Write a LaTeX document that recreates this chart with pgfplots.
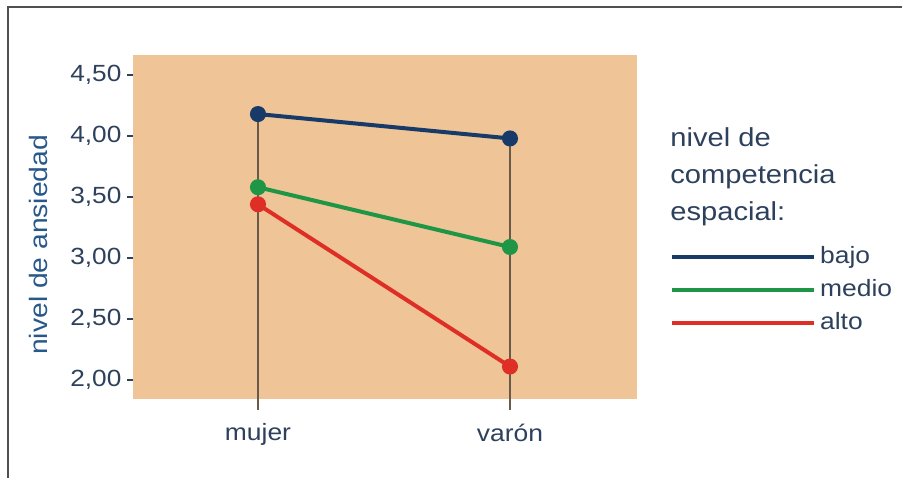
\documentclass[border=0pt]{standalone}
\usepackage{fontspec}
\setmainfont{Liberation Sans}[FakeStretch=1.12]
\usepackage{pgfplots}
\pgfplotsset{compat=1.18}

\definecolor{bgorange}{RGB}{239,196,151}
\definecolor{cbajo}{RGB}{24,58,104}
\definecolor{cmedio}{RGB}{30,150,70}
\definecolor{calto}{RGB}{222,46,38}
\definecolor{txtdark}{RGB}{45,64,92}
\definecolor{txtblue}{RGB}{40,88,138}
\definecolor{vline}{RGB}{105,90,75}
\definecolor{frame}{RGB}{80,80,80}

\begin{document}
\begin{tikzpicture}
\useasboundingbox (0,0) rectangle (451pt,239pt);
\draw[frame, line width=1.4pt] (4pt,0pt) -- (4pt,235.5pt) -- (451pt,235.5pt);

\begin{axis}[
  at={(66.5pt,39.5pt)}, anchor=south west,
  scale only axis, width=252pt, height=172pt,
  xmin=-0.496, xmax=1.504,
  ymin=1.844, ymax=4.664,
  axis background/.style={fill=bgorange},
  axis line style={draw=none},
  xtick={0,1}, xticklabels={mujer, varón},
  ytick={2,2.5,3,3.5,4,4.5},
  ytick pos=left,
  yticklabel={\pgfmathprintnumber[fixed,fixed zerofill,precision=2,use comma]{\tick}},
  /pgf/number format/assume math mode=true,
  tick align=outside,
  major tick length=2.8pt,
  x tick style={draw=none},
  y tick style={draw=txtdark, line width=0.9pt},
  ticklabel style={font=\fontsize{11.7}{13}\selectfont, text=txtdark},
  yticklabel style={xshift=0.5pt},
  xticklabel style={font=\fontsize{11.8}{13}\selectfont, text=txtdark, yshift=-6pt},
  ylabel={nivel de ansiedad},
  ylabel style={font=\fontsize{12.6}{14}\selectfont, text=txtblue, at={(axis description cs:-0.155,0.448)}},
  clip=false,
  legend image code/.code={\draw[#1] (0pt,0pt) -- (71pt,0pt);},
  legend style={at={(1.065,0.445)}, anchor=north west, draw=none, fill=none,
    inner sep=0pt, row sep=5.5pt, column sep=2pt,
    font=\fontsize{11.8}{13}\selectfont, text=txtdark,
    nodes={inner sep=0pt, text height=8.5pt, text depth=2.5pt}},
  legend cell align=left,
]
% vertical drop lines at each category
\addplot[vline, line width=0.6pt, forget plot] coordinates {(0,1.754) (0,4.18)};
\addplot[vline, line width=0.6pt, forget plot] coordinates {(1,1.754) (1,3.98)};

\addplot[cbajo, line width=2pt, mark=*, mark size=3pt] coordinates {(0,4.18) (1,3.98)};
\addlegendentry{bajo}
\addplot[cmedio, line width=2pt, mark=*, mark size=3pt] coordinates {(0,3.58) (1,3.09)};
\addlegendentry{medio}
\addplot[calto, line width=2pt, mark=*, mark size=3pt] coordinates {(0,3.44) (1,2.11)};
\addlegendentry{alto}
\end{axis}

\node[anchor=north west, inner sep=0pt, align=left, text=txtdark,
  font=\fontsize{13}{18.5}\selectfont] at (335pt,175.5pt)
  {nivel de\\competencia\\espacial:};
\end{tikzpicture}
\end{document}
